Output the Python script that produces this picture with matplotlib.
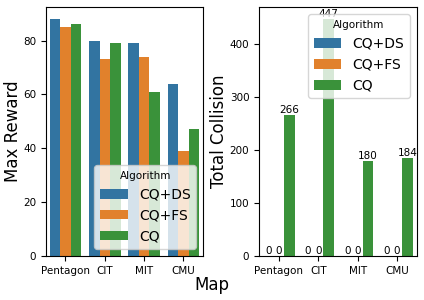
import matplotlib
matplotlib.use("Agg")
import matplotlib.pyplot as plt
import pandas as pd
import seaborn as sns

maps = ["Pentagon", "CIT", "MIT", "CMU"]
algorithms = ["CQ+DS", "CQ+FS", "CQ"]
max_reward = {
    "CQ+DS": [88, 80, 79, 64],
    "CQ+FS": [85, 73, 74, 39],
    "CQ": [86, 79, 61, 47],
}
total_collision = {
    "CQ+DS": [0, 0, 0, 0],
    "CQ+FS": [0, 0, 0, 0],
    "CQ": [266, 447, 180, 184],
}

rows = []
for alg in algorithms:
    for i, m in enumerate(maps):
        rows.append({"Map": m, "Algorithm": alg,
                     "Max Reward": max_reward[alg][i],
                     "Total Collision": total_collision[alg][i]})
df = pd.DataFrame(rows)

fig = plt.figure(figsize=(4.24, 3.0), dpi=100)
ax1 = fig.add_axes([0.108, 0.147, 0.371, 0.829])
ax2 = fig.add_axes([0.611, 0.147, 0.372, 0.829])

# grafik 1: max reward
sns.barplot(data=df, x="Map", y="Max Reward", hue="Algorithm", ax=ax1)
ax1.set_xlabel("")
ax1.set_ylabel("Max Reward", fontsize=12, labelpad=1)
ax1.tick_params(labelsize=7.5)
ax1.legend(title="Algorithm", loc="lower right", fontsize=10, title_fontsize=7.5)

# grafik 2: total collision
sns.barplot(data=df, x="Map", y="Total Collision", hue="Algorithm", ax=ax2)
for c in ax2.containers:
    ax2.bar_label(c, fontsize=7.5)
ax2.set_xlabel("")
ax2.set_ylabel("Total Collision", fontsize=12, labelpad=1)
ax2.tick_params(labelsize=7.5)
ax2.legend(title="Algorithm", loc="upper right", fontsize=10, title_fontsize=7.5)

fig.text(0.5, 0.035, "Map", ha="center", fontsize=12)

fig.savefig("out.png", dpi=100)
